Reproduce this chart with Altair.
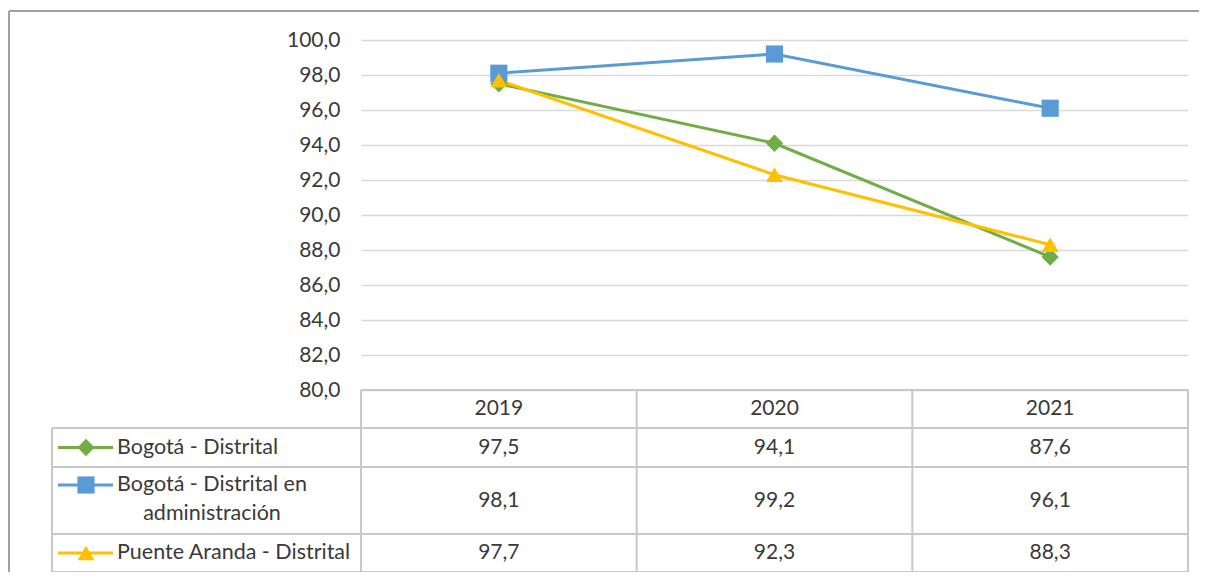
import altair as alt
import pandas as pd

# ---------------- data ----------------
years = ["2019", "2020", "2021"]
series = [
    "Bogotá - Distrital",
    "Bogotá - Distrital en administración",
    "Puente Aranda - Distrital",
]
legend_labels = [
    "Bogotá - Distrital",
    "Bogotá - Distrital en\nadministración",
    "Puente Aranda - Distrital",
]
bogota = [97.5, 94.1, 87.6]
bogota_admin = [98.1, 99.2, 96.1]
puente_aranda = [97.7, 92.3, 88.3]
y_ticks = [80, 82, 84, 86, 88, 90, 92, 94, 96, 98, 100]

# ---------------- styles ----------------
colors = ["#70AD47", "#5B9BD5", "#FFC000"]
shapes = ["diamond", "square", "triangle-up"]
plot_sizes = [300, 290, 300]
legend_sizes = [150, 230, 260]
FONT = "Lato"
FS = 21
FS_LABEL = 21.5
TXT = "#3a3a3a"
GRID = "#D9D9D9"
TABLE_LINE = "#C8C8C8"
FRAME = "#A0A0A0"

# ---------------- layout (picture pixels) ----------------
PLOT_L, PLOT_R, PLOT_T, PLOT_B = 361, 1188, 40, 390
W = PLOT_R - PLOT_L
H = PLOT_B - PLOT_T
YMIN, YMAX = 80, 100
NCOL = len(years)


def px_x(px):
    return (px - PLOT_L) / W * NCOL


def px_y(py):
    return YMIN + (PLOT_B - py) / H * (YMAX - YMIN)


row_edges = [390, 428, 467, 534, 572]
TABLE_L = 52
KEY_X0, KEY_X1, KEY_XM = 58, 113, 86
LABEL_X = 117
LABEL_X_CENTER = 212
MULTI_FIRST_LINE = 485

# ---------------- tables ----------------
vals = [bogota, bogota_admin, puente_aranda]
rows = []
for s, v in zip(series, vals):
    for i, (yr, val) in enumerate(zip(years, v)):
        rows.append({"series": s, "year": yr, "x": i + 0.5, "value": val})
df = pd.DataFrame(rows)

# table cell texts
cells = []
hdr_y = px_y((row_edges[0] + row_edges[1]) / 2)
for i, yr in enumerate(years):
    cells.append({"x": i + 0.5, "y": hdr_y, "txt": yr})
for r, (s, v) in enumerate(zip(series, vals)):
    ry = px_y((row_edges[r + 1] + row_edges[r + 2]) / 2)
    for i, val in enumerate(v):
        cells.append({"x": i + 0.5, "y": ry, "txt": f"{val:.1f}".replace(".", ",")})
cells_df = pd.DataFrame(cells)

# table rules
segs = []
segs.append({"x": 0, "x2": NCOL, "y": px_y(row_edges[0]), "y2": px_y(row_edges[0])})
for e in row_edges[1:]:
    segs.append({"x": px_x(TABLE_L), "x2": NCOL, "y": px_y(e), "y2": px_y(e)})
for c in range(NCOL + 1):
    segs.append({"x": c, "x2": c, "y": px_y(row_edges[0]), "y2": px_y(row_edges[-1])})
segs.append({"x": px_x(TABLE_L), "x2": px_x(TABLE_L), "y": px_y(row_edges[1]), "y2": px_y(row_edges[-1])})
segs_df = pd.DataFrame(segs)

frame_df = pd.DataFrame([
    {"x": px_x(9), "x2": px_x(9), "y": px_y(11), "y2": px_y(620)},
    {"x": px_x(9), "x2": px_x(1300), "y": px_y(11), "y2": px_y(11)},
])

# legend keys
keys = []
for r, (s, lab) in enumerate(zip(series, legend_labels)):
    ry = px_y((row_edges[r + 1] + row_edges[r + 2]) / 2)
    multi = "\n" in lab
    ky = px_y(MULTI_FIRST_LINE) if multi else ry
    keys.append({
        "series": s, "label": lab, "multi": multi,
        "kx0": px_x(KEY_X0), "kx1": px_x(KEY_X1), "kxm": px_x(KEY_XM),
        "ky": ky,
        "ty": ky,
        "tx": px_x(LABEL_X_CENTER) if multi else px_x(LABEL_X),
    })
keys_df = pd.DataFrame(keys)

# ---------------- encodings ----------------
xscale = alt.Scale(domain=[0, NCOL], nice=False, zero=False)
yscale = alt.Scale(domain=[YMIN, YMAX], nice=False, zero=False)
yaxis = alt.Axis(
    values=y_ticks, title=None, domain=False, ticks=False, labelPadding=21,
    labelExpr="replace(format(datum.value, '.1f'), '.', ',')",
    labelFont=FONT, labelFontSize=FS, labelColor=TXT,
    grid=True, gridColor=GRID, gridWidth=1.5,
)
color = alt.Color("series:N", scale=alt.Scale(domain=series, range=colors), legend=None)


def X(f):
    return alt.X(f, type="quantitative", scale=xscale, axis=None)


def Y(f):
    return alt.Y(f, type="quantitative", scale=yscale, axis=yaxis)


frame = alt.Chart(frame_df).mark_rule(color=FRAME, strokeWidth=2).encode(
    x=X("x"), x2="x2", y=Y("y"), y2="y2")

table_lines = alt.Chart(segs_df).mark_rule(color=TABLE_LINE, strokeWidth=2).encode(
    x=X("x"), x2="x2", y=Y("y"), y2="y2")

lines = alt.Chart(df).mark_line(strokeWidth=3).encode(
    x=X("x"), y=Y("value"), color=color, detail="series:N")

points = alt.Chart(df).mark_point(filled=True, opacity=1).encode(
    x=X("x"), y=Y("value"), color=color,
    shape=alt.Shape("series:N", scale=alt.Scale(domain=series, range=shapes), legend=None),
    size=alt.Size("series:N", scale=alt.Scale(domain=series, range=plot_sizes), legend=None),
)

cell_text = alt.Chart(cells_df).mark_text(font=FONT, fontSize=FS, color=TXT, baseline="middle").encode(
    x=X("x"), y=Y("y"), text="txt:N")

key_lines = alt.Chart(keys_df).mark_rule(strokeWidth=3).encode(
    x=X("kx0"), x2="kx1", y=Y("ky"), color=color)

key_points = alt.Chart(keys_df).mark_point(filled=True, opacity=1).encode(
    x=X("kxm"), y=Y("ky"), color=color,
    shape=alt.Shape("series:N", scale=alt.Scale(domain=series, range=shapes), legend=None),
    size=alt.Size("series:N", scale=alt.Scale(domain=series, range=legend_sizes), legend=None),
)

key_text_single = alt.Chart(keys_df).transform_filter("!datum.multi").mark_text(
    font=FONT, fontSize=FS_LABEL, color=TXT, align="left", baseline="middle").encode(
    x=X("tx"), y=Y("ty"), text="label:N")

key_text_multi = alt.Chart(keys_df).transform_filter("datum.multi").mark_text(
    font=FONT, fontSize=FS_LABEL, color=TXT, align="center", baseline="middle",
    lineBreak="\n", lineHeight=29).encode(
    x=X("tx"), y=Y("ty"), text="label:N")

chart = alt.layer(
    frame, table_lines, lines, points, cell_text,
    key_lines, key_points, key_text_single, key_text_multi,
).properties(
    width=W, height=H,
    autosize=alt.AutoSizeParams(type="none"),
    padding={"left": PLOT_L - 8, "top": PLOT_T - 8, "right": 1199 - PLOT_R, "bottom": 572 - PLOT_B},
    background="white",
).configure_view(stroke=None)

chart.save("out.html", embed_options={"renderer": "svg", "actions": False})
